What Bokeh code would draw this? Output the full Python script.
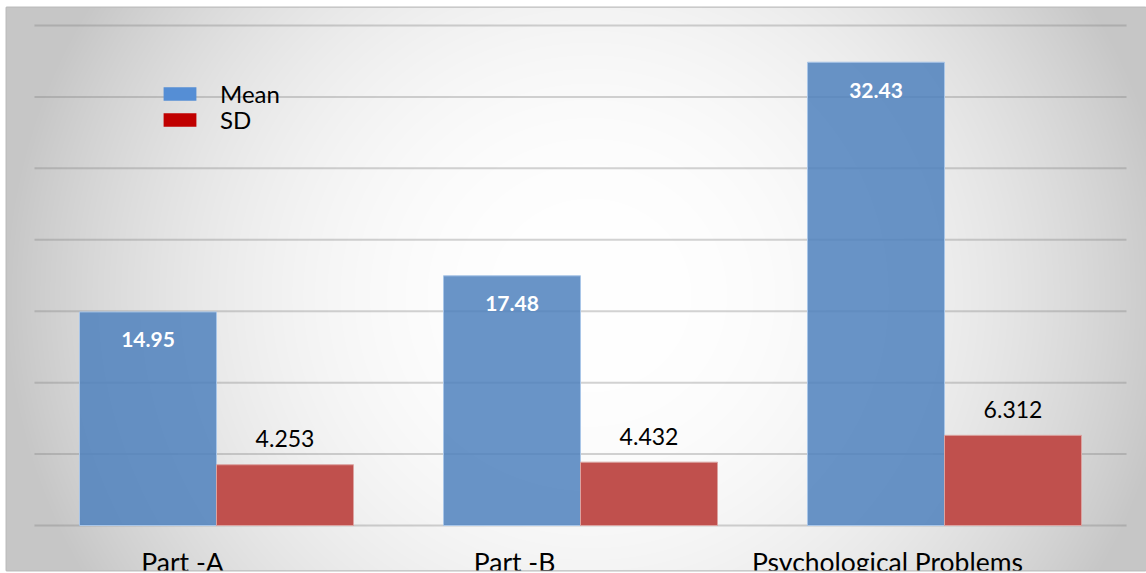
import numpy as np
from bokeh.plotting import figure
from bokeh.models import Legend, LegendItem, Range1d
from bokeh.core.properties import value
from bokeh.embed import file_html
from bokeh.resources import INLINE

# ---- data ----
categories = ["Part -A", "Part -B", "Psychological Problems"]
mean_values = [14.95, 17.48, 32.43]
sd_values = [4.253, 4.432, 6.312]
mean_labels = ["14.95", "17.48", "32.43"]
sd_labels = ["4.253", "4.432", "6.312"]
y_ticks = [0, 5, 10, 15, 20, 25, 30, 35]
series_names = ["Mean", "SD"]

# ---- layout (pixels) ----
W, H = 1146, 573
FL, FT, FB = 6, 7, 570          # frame left / top / bottom
PLOT_L, CAT_W = 34, 364         # start of first category, px per category
BASE_PX = 525                   # pixel row of value 0
PX_PER_UNIT = 500 / 35.0

x0 = (FL - PLOT_L) / CAT_W
x1 = (W - PLOT_L) / CAT_W
y_top = (BASE_PX - FT) / PX_PER_UNIT
y_bot = -(FB - BASE_PX) / PX_PER_UNIT

FONT = "Lato"

p = figure(width=W, height=H, x_range=Range1d(x0, x1), y_range=Range1d(y_bot, y_top),
           x_axis_type=None, y_axis_type=None, output_backend="svg",
           toolbar_location=None, min_border_left=FL, min_border_right=0,
           min_border_top=FT, min_border_bottom=H - FB)
p.grid.visible = False
p.border_fill_color = "white"
p.background_fill_color = "white"
p.outline_line_color = "#bdbdbd"
p.outline_line_width = 2

# ---- radial gradient background ----
fw, fh = W - FL, FB - FT
xs = FL + np.arange(fw) + 0.5
ys = FB - (np.arange(fh) + 0.5)
XX, YY = np.meshgrid(xs, ys)
r = np.sqrt(((XX - 590) / 565.0) ** 2 + ((YY - 295) / 543.0) ** 2)
v = 255 - 52 * np.minimum(r, 1.04) ** 2.3
v = np.clip(v, 0, 255).astype(np.uint8)
img = np.empty((fh, fw), dtype=np.uint32)
view = img.view(dtype=np.uint8).reshape((fh, fw, 4))
view[:, :, 0] = v
view[:, :, 1] = v
view[:, :, 2] = v
view[:, :, 3] = 255
p.image_rgba(image=[img], x=x0, y=y_bot, dw=x1 - x0, dh=y_top - y_bot)

# ---- gridlines ----
n = len(y_ticks)
p.segment(x0=[0] * n, x1=[len(categories)] * n, y0=y_ticks, y1=y_ticks,
          line_color="#7f7f7f", line_alpha=0.34, line_width=2)

# ---- bars ----
idx = np.arange(len(categories)) + 0.5
bw = 0.3764
off = bw / 2
p.vbar(x=idx - off, top=mean_values, width=bw, bottom=0,
       fill_color="#4f81bd", fill_alpha=0.85, line_color="#a9c6e8", line_width=1)
p.vbar(x=idx + off, top=sd_values, width=bw, bottom=0,
       fill_color="#c0504d", line_color="#dba3a1", line_width=1)

# ---- value labels ----
p.text(x=idx - off, y=mean_values, text=mean_labels, text_align="center",
       text_baseline="middle", y_offset=28, text_color="white",
       text_font=value(FONT), text_font_style="bold", text_font_size="21px")
p.text(x=idx + off, y=sd_values, text=sd_labels, text_align="center",
       text_baseline="middle", y_offset=-26, text_color="black",
       text_font=value(FONT), text_font_size="23px")

# ---- category labels (cut by the frame bottom, as in the original) ----
p.text(x=idx, y=[0] * len(categories), text=categories, text_align="center",
       text_baseline="middle", x_offset=[-34, -66, -57], y_offset=36,
       text_color="black", text_font=value(FONT), text_font_size="26.5px")

# ---- legend (swatch colours differ from bars, as in the original) ----
r_mean = p.rect(x=[idx[0]], y=[0], width=0, height=0, fill_color="#558ed5", line_color=None)
r_sd = p.rect(x=[idx[0]], y=[0], width=0, height=0, fill_color="#c00000", line_color=None)


def make_legend(label, rend, loc):
    return Legend(items=[LegendItem(label=label, renderers=[rend])],
                  location=loc, glyph_width=41, glyph_height=17,
                  label_standoff=20, spacing=0, padding=0, margin=0,
                  label_height=20, border_line_color=None, background_fill_alpha=0,
                  label_text_font=FONT, label_text_font_size="24px",
                  label_text_color="black")


p.add_layout(make_legend(series_names[0], r_mean, (153, 462)))
p.add_layout(make_legend(series_names[1], r_sd, (153, 436)))

open("out.html", "w").write(file_html(p, INLINE))
